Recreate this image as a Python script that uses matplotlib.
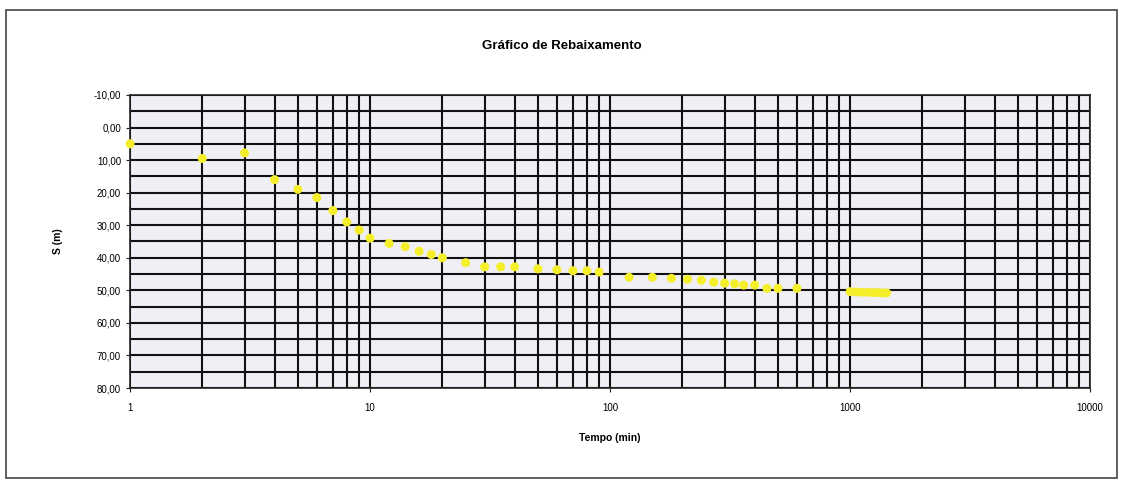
import matplotlib
matplotlib.use("Agg")
import matplotlib.pyplot as plt
from matplotlib.ticker import FixedLocator, FuncFormatter, LogLocator, NullFormatter
from matplotlib.patches import Rectangle

# drawdown test data: time (min) and drawdown s (m)
tempo = [1, 2, 3, 4, 5, 6, 7, 8, 9, 10, 12, 14, 16, 18, 20, 25, 30, 35, 40,
         50, 60, 70, 80, 90, 120, 150, 180, 210, 240, 270, 300, 330, 360,
         400, 450, 500, 600, 1000, 1060, 1120, 1180, 1240, 1300, 1360, 1420]
rebaixamento = [5.0, 9.5, 7.8, 16.0, 19.0, 21.5, 25.5, 29.0, 31.5, 34.0, 35.6,
                36.6, 38.0, 39.0, 40.0, 41.5, 42.8, 42.8, 42.8, 43.4, 43.7,
                44.0, 44.0, 44.4, 46.0, 46.0, 46.3, 46.6, 46.9, 47.5, 47.8,
                48.0, 48.4, 48.4, 49.4, 49.4, 49.4, 50.4, 50.5, 50.6, 50.6,
                50.7, 50.7, 50.8, 50.8]

y_ticks = [-10, 0, 10, 20, 30, 40, 50, 60, 70, 80]
x_ticks = [1, 10, 100, 1000, 10000]

plt.rcParams['font.family'] = ['Liberation Sans', 'DejaVu Sans']

fig = plt.figure(figsize=(11.23, 4.82), dpi=100)
fig.patch.set_facecolor('white')
# chart area border
fig.patches.append(Rectangle((0.005, 0.008), 0.99, 0.972, transform=fig.transFigure,
                             fill=False, edgecolor='#444444', linewidth=1.2))

ax = fig.add_axes([0.1158, 0.195, 0.855, 0.608])
ax.set_facecolor('#f1eff6')
ax.set_xscale('log')
ax.set_xlim(1, 10000)
ax.set_ylim(80, -10)

ax.xaxis.set_major_locator(FixedLocator(x_ticks))
ax.xaxis.set_minor_locator(LogLocator(base=10, subs=range(2, 10)))
ax.xaxis.set_minor_formatter(NullFormatter())
ax.xaxis.set_major_formatter(FuncFormatter(lambda v, p: f"{int(v)}"))

ax.yaxis.set_major_locator(FixedLocator(y_ticks))
ax.yaxis.set_minor_locator(FixedLocator([t + 5 for t in y_ticks[:-1]]))
ax.yaxis.set_major_formatter(FuncFormatter(lambda v, p: f"{v:.2f}".replace('.', ',')))

ax.grid(True, which='both', color='#111111', linewidth=1.5)
ax.set_axisbelow(True)
for s in ax.spines.values():
    s.set_color('#222222')
    s.set_linewidth(1.2)

ax.tick_params(axis='both', which='major', labelsize=7, length=3, color='#222222')
ax.tick_params(axis='both', which='minor', length=0)
ax.tick_params(axis='x', pad=8)

ax.scatter(tempo, rebaixamento, s=42, color='#f4ef2a', edgecolors='none',
           zorder=3, clip_on=False)

ax.set_xlabel("Tempo (min)", fontsize=7.5, fontweight='bold', labelpad=14)
ax.set_ylabel("S (m)", fontsize=7.5, fontweight='bold', labelpad=22)
fig.text(0.5, 0.905, "Gráfico de Rebaixamento", ha='center', va='center',
         fontsize=9.5, fontweight='bold')

fig.savefig("out.png", dpi=100)
